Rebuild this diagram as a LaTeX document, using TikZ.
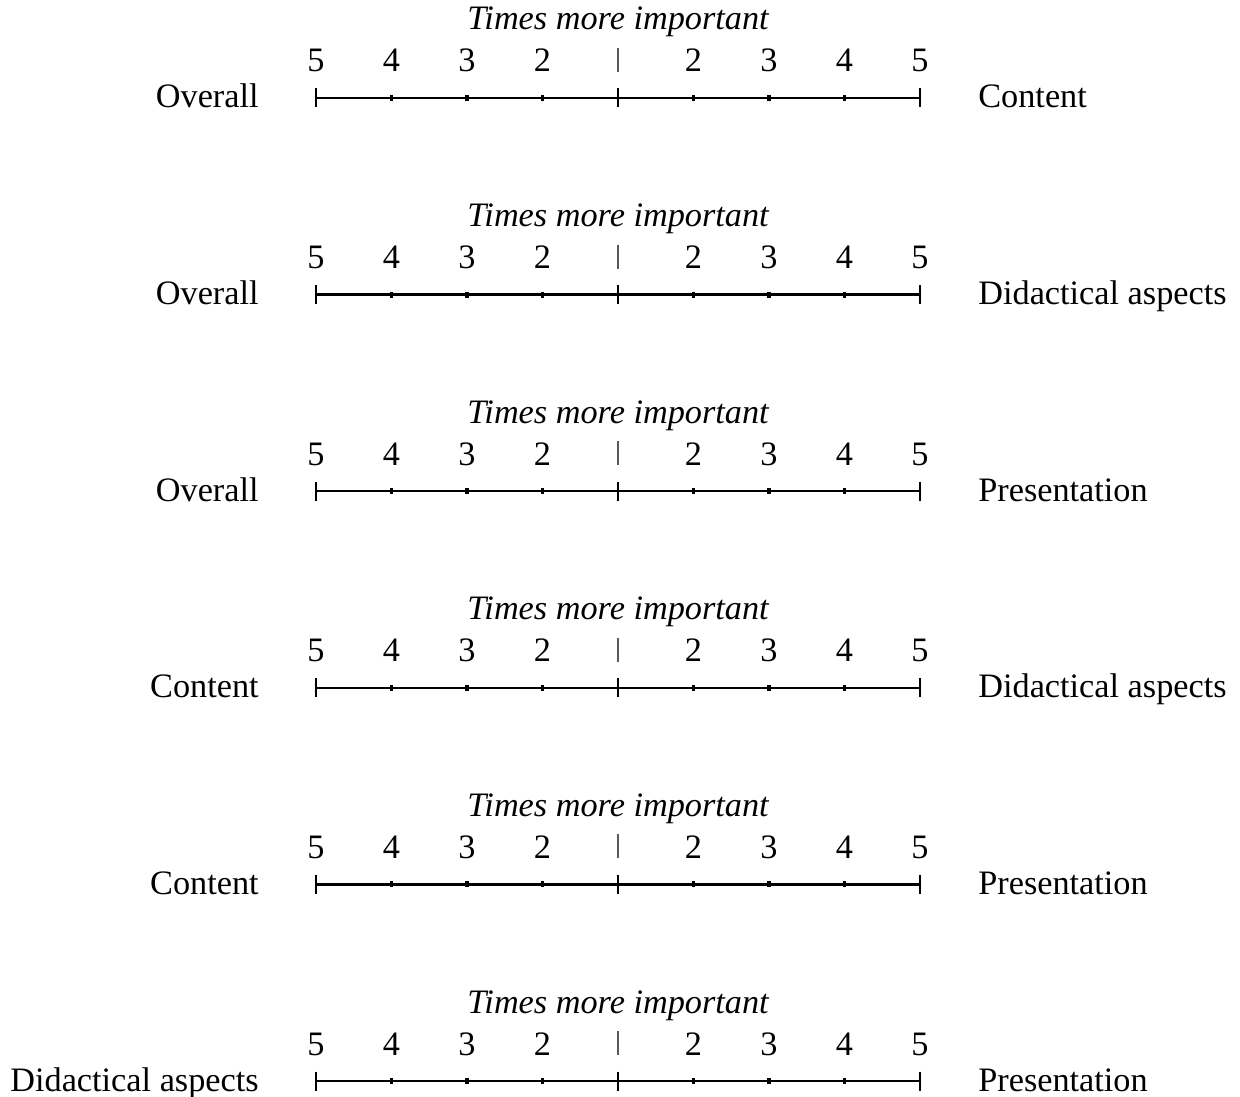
\documentclass[tikz,border=0pt]{standalone}
\usepackage{fontspec}
\setmainfont{Liberation Serif}
\begin{document}
\begin{tikzpicture}[x=0.02cm,y=-0.02cm,
  txt/.style={font=\fontsize{19.5}{22}\selectfont, inner sep=0pt},
  ttl/.style={txt, font=\fontsize{19.5}{22}\selectfont\itshape},
  axisline/.style={line width=1.35pt},
  bigtick/.style={line width=1.35pt},
  smalltick/.style={line width=1.8pt},
  midbar/.style={line width=0.6pt, black!65}]
\useasboundingbox (0,0) rectangle (1240,1097);
\foreach \l/\r [count=\i from 0] in {Overall/Content, Overall/Didactical aspects, Overall/Presentation, Content/Didactical aspects, Content/Presentation, Didactical aspects/Presentation} {
  \pgfmathsetmacro\yy{98+196.6*\i}
  % tick positions along the scale
  \foreach \k in {0,...,8} {
    \coordinate (t\i-\k) at ({316+75.5*\k},\yy);
  }
  \draw[axisline] (t\i-0) -- (t\i-8);
  \foreach \k in {0,4,8} {
    \draw[bigtick] ([yshift=9.5*0.02cm]t\i-\k) -- ([yshift=-9.5*0.02cm]t\i-\k);
  }
  \foreach \k in {1,2,3,5,6,7} {
    \draw[smalltick] ([yshift=3*0.02cm]t\i-\k) -- ([yshift=-3*0.02cm]t\i-\k);
  }
  % scale numbers
  \foreach \n/\k in {5/0,4/1,3/2,2/3,2/5,3/6,4/7,5/8} {
    \node[txt, anchor=base] (n\i-\k) at ([yshift=26*0.02cm]t\i-\k) {\n};
  }
  \draw[midbar] ([yshift=26*0.02cm]t\i-4) -- ([yshift=50*0.02cm]t\i-4);
  % heading and end labels
  \node[ttl, anchor=base] (title\i) at ([yshift=68*0.02cm]t\i-4) {Times more important};
  \node[txt, anchor=base east] (left\i) at (259,\yy+10) {\l};
  \node[txt, anchor=base west] (right\i) at (978,\yy+10) {\r};
}
\end{tikzpicture}
\end{document}
